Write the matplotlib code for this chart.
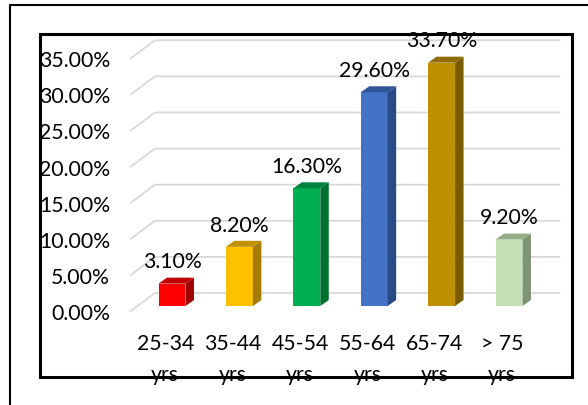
import matplotlib.pyplot as plt
from matplotlib.patches import Polygon, Rectangle
from matplotlib.lines import Line2D

plt.rcParams['font.family'] = ['Lato', 'DejaVu Sans']

# data
categories = ["25-34\nyrs", "35-44\nyrs", "45-54\nyrs", "55-64\nyrs", "65-74\nyrs", "> 75\nyrs"]
values = [3.1, 8.2, 16.3, 29.6, 33.7, 9.2]
front_colors = ["#FF0000", "#FFC000", "#00B050", "#4472C4", "#BF8F00", "#C5E0B4"]
top_colors = ["#C00000", "#BF9000", "#00843C", "#2F5597", "#8F6B00", "#94AD86"]
side_colors = ["#A00000", "#A67C00", "#007030", "#2A4A85", "#7A5B00", "#7E9572"]
yticks = [0, 5, 10, 15, 20, 25, 30, 35]

# 3d look parameters (data units)
floor_dx, floor_dy = 0.356, 2.49   # depth of the floor/side wall
bar_shift, bar_base = 0.1, 0.69    # bar front plane position within depth
bar_dx, bar_dy = 0.126, 0.83       # depth of each bar
width = 0.4
xl, xr = -0.51, 5.49
fs = 15.3

fig = plt.figure(figsize=(5.88, 4.06), dpi=100)
ax = fig.add_axes([130.9/588, 94/406, 432/588, 274.4/406])
ax.set_xlim(xl, 5.9)
ax.set_ylim(0, 38)
for s in ax.spines.values():
    s.set_visible(False)

# gridlines: back wall + left wall
for v in yticks:
    ax.add_line(Line2D([xl, xl+floor_dx, xr+floor_dx], [v, v+floor_dy, v+floor_dy],
                       color="#D9D9D9", lw=1.3, zorder=1, clip_on=False))

for i, val in enumerate(values):
    x0 = i + bar_shift - width/2
    x1 = x0 + width
    y0 = bar_base
    y1 = bar_base + val
    ax.add_patch(Rectangle((x0, y0), width, val, facecolor=front_colors[i], edgecolor='none', zorder=3))
    ax.add_patch(Polygon([(x1, y0), (x1+bar_dx, y0+bar_dy), (x1+bar_dx, y1+bar_dy), (x1, y1)],
                         closed=True, facecolor=side_colors[i], edgecolor='none', zorder=3))
    ax.add_patch(Polygon([(x0, y1), (x0+bar_dx, y1+bar_dy), (x1+bar_dx, y1+bar_dy), (x1, y1)],
                         closed=True, facecolor=top_colors[i], edgecolor='none', zorder=3))
    ax.annotate("%.2f%%" % val, (i + bar_shift, y1), xytext=(0, 16), textcoords='offset points',
                ha='center', va='center', fontsize=fs, zorder=4)

ax.set_yticks(yticks)
ax.set_yticklabels(["%.2f%%" % v for v in yticks], fontsize=fs)
ax.set_xticks(range(len(categories)))
ax.set_xticklabels(categories, fontsize=fs, linespacing=1.68)
ax.tick_params(axis='y', length=0, pad=15)
ax.tick_params(axis='x', length=0, pad=16)

# chart frame
fig.add_artist(Rectangle((40/588, 28/406), 532/588, 343/406, transform=fig.transFigure,
                         fill=False, edgecolor='black', lw=2.2, zorder=10))
fig.add_artist(Line2D([10/588, 10/588, 1], [0, 400/406, 400/406], transform=fig.transFigure,
                      color='black', lw=1.5, zorder=10))

fig.savefig("out.png", dpi=100)
